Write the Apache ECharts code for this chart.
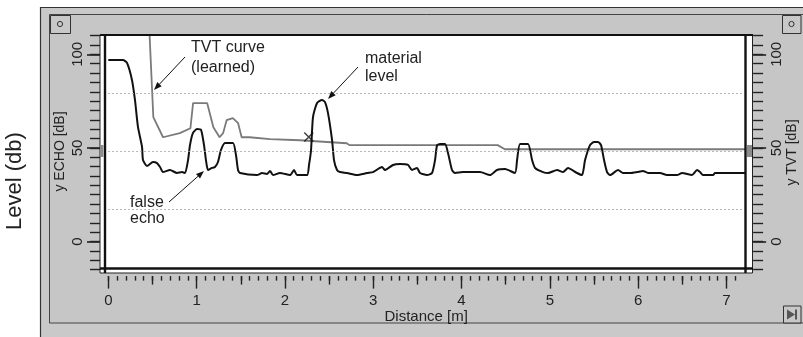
<!DOCTYPE html>
<html><head><meta charset="utf-8">
<script src="https://cdn.jsdelivr.net/npm/echarts@6/dist/echarts.min.js"></script>
<style>html,body{margin:0;padding:0;background:#fff}#c{width:803px;height:337px}</style>
</head><body><div id="c"></div>
<script>
// ---- data ----
const echoDist = [0,0.166,0.212,0.268,0.302,0.336,0.382,0.393,0.438,0.506,
  0.552,0.586,0.619,0.699,0.778,0.835,0.869,0.903,0.925,0.959,
  1.005,1.050,1.084,1.106,1.129,1.174,1.208,1.242,1.276,1.322,
  1.412,1.446,1.469,1.492,1.684,1.741,1.797,1.831,1.865,1.944,
  2.058,2.103,2.137,2.251,2.273,2.296,2.318,2.364,2.420,2.454,
  2.488,2.534,2.556,2.590,2.624,2.703,2.816,2.930,2.998,3.100,
  3.134,3.224,3.303,3.394,3.439,3.496,3.530,3.609,3.666,3.700,
  3.723,3.757,3.813,3.847,3.892,3.926,4.017,4.209,4.323,4.402,
  4.493,4.606,4.629,4.663,4.753,4.799,4.833,4.923,4.980,5.082,
  5.150,5.206,5.308,5.365,5.399,5.455,5.501,5.546,5.580,5.614,
  5.648,5.682,5.773,5.829,5.908,5.987,6.055,6.112,6.134,6.248,
  6.327,6.440,6.497,6.610,6.667,6.701,6.735,6.848,6.871,7.21];
const echoLevel = [97,97,95.4,86.3,75.6,61.2,50.5,43.5,40.3,42.5,
  41.9,39.8,37.1,38.2,36.6,37.1,36.6,43.5,51.5,58.0,
  60.1,59.6,51.5,43.5,38.2,39.3,39.8,42.5,48.9,52.6,
  52.6,46.2,38.2,36.6,35.5,36.6,36.1,37.7,35.5,36.6,
  35.5,38.2,35.5,35.5,40.9,48.9,66.5,74.0,75.6,74.5,
  68.6,54.2,43.5,38.2,37.1,36.6,35.5,36.6,37.1,39.8,
  38.2,40.9,41.4,40.9,38.2,39.3,36.6,35.5,36.6,43.5,
  51.5,52.1,52.1,47.3,38.2,36.6,37.1,37.1,35.5,38.2,
  38.7,36.6,43.5,52.1,52.1,43.5,39.3,37.1,36.6,38.2,
  37.1,39.3,36.6,35.5,43.5,51.5,53.2,53.2,51.5,43.5,
  37.1,35.5,38.2,36.6,36.6,37.1,37.7,36.6,36.6,36.6,
  35.5,35.5,36.6,35.5,38.2,37.1,35.5,35.5,36.6,36.6];
const tvtDist  = [0.46,0.51,0.62,0.81,0.93,0.96,1.12,1.19,1.26,1.30,1.34,1.41,1.47,1.51,1.60,1.83,2.17,2.70,2.73,4.41,4.49,7.21];
const tvtLevel = [118,66.4,55.7,57.9,60.5,73.9,73.9,61,55.7,57.9,64.8,65.9,63.2,55.7,55.7,54.7,54.1,52.5,51.5,51.5,49.3,49.3];
const crossPoint = [2.27, 55.8];
const gridLevels = [79, 48, 17];
const xTickLabels = [0,1,2,3,4,5,6,7];
const yTickLabels = [0,50,100];

// ---- layout helpers ----
const FONT = "'Liberation Sans', Arial, sans-serif";
const X_MIN = 0, X_MAX = 7.2, Y_MIN = -15, Y_MAX = 110;
const xMinor = [], xMid = [];
for (let i = 0; i <= 71; i++) xMinor.push(+(i * 0.1).toFixed(1));
for (let i = 0; i <= 6; i++) xMid.push(i + 0.5);

const zip = (a, b) => a.map((v, i) => [v, b[i]]);

function xAx(ticks, len, labels) {
  return {
    type: 'value', min: X_MIN, max: X_MAX, position: 'bottom', offset: 6.5,
    axisLine: { show: false, onZero: false },
    axisTick: { show: true, inside: false, customValues: ticks, length: len, lineStyle: { color: '#222', width: 1.4 } },
    axisLabel: labels ? { show: true, customValues: labels, margin: 17, fontSize: 15, color: '#222', fontFamily: FONT }
                      : { show: false },
    splitLine: { show: false }
  };
}
function yAx(pos, offset, major, margin) {
  const base = {
    type: 'value', min: Y_MIN, max: Y_MAX, position: pos, offset: offset,
    axisLine: { show: false, onZero: false }, splitLine: { show: false }
  };
  if (!major) {
    base.interval = 5;
    base.axisTick = { show: true, inside: false, length: 10, lineStyle: { color: '#222', width: 1.4 } };
    base.axisLabel = { show: false };
  } else {
    base.axisTick = { show: true, inside: false, customValues: yTickLabels, length: 13, lineStyle: { color: '#222', width: 1.6 } };
    base.axisLabel = { show: true, customValues: yTickLabels, rotate: 90, margin: margin, fontSize: 15, color: '#222', fontFamily: FONT };
  }
  return base;
}

function arrow(x1, y1, x2, y2) {
  const a = Math.atan2(y2 - y1, x2 - x1), L = 8, W = 3;
  const bx = x2 - L * Math.cos(a), by = y2 - L * Math.sin(a);
  const px = -Math.sin(a) * W, py = Math.cos(a) * W;
  return [
    { type: 'line', z: 100, shape: { x1, y1, x2: bx, y2: by }, style: { stroke: '#111', lineWidth: 1 } },
    { type: 'polygon', z: 100, shape: { points: [[x2, y2], [bx + px, by + py], [bx - px, by - py]] }, style: { fill: '#111' } }
  ];
}
function txt(t, x, y, size) {
  return { type: 'text', z: 100, x, y,
    style: { text: t, fontSize: size, fontFamily: FONT, fill: '#222', align: 'left', verticalAlign: 'middle', textAlign: 'left', textVerticalAlign: 'middle' } };
}
function vtxt(t, x, y, size) {
  return { type: 'text', z: 100, x, y, rotation: Math.PI / 2,
    style: { text: t, fontSize: size, fontFamily: FONT, fill: '#222', align: 'center', verticalAlign: 'middle', textAlign: 'center', textVerticalAlign: 'middle' } };
}
function btn(x, y, w, h, kids) {
  return [{ type: 'rect', z: -5, shape: { x, y, width: w, height: h }, style: { fill: '#c8c8c8', stroke: '#333', lineWidth: 1 } }].concat(kids);
}

const graphics = [
  // panels
  { type: 'rect', z: -20, shape: { x: 40.5, y: 7.5, width: 800, height: 340 }, style: { fill: '#c9c9c9', stroke: '#333', lineWidth: 1.2 } },
  { type: 'rect', z: -19, shape: { x: 49.5, y: 14.5, width: 800, height: 308.5 }, style: { fill: '#c6c6c6', stroke: '#444', lineWidth: 1 } },
  // plot frame
  { type: 'rect', z: -10, shape: { x: 100, y: 35, width: 652.5, height: 238 }, style: { fill: '#fff', stroke: '#222', lineWidth: 1 } },
  { type: 'line', z: 50, shape: { x1: 100, y1: 35, x2: 753, y2: 35 }, style: { stroke: '#111', lineWidth: 2.2 } },
  { type: 'line', z: 50, shape: { x1: 100, y1: 268.5, x2: 753, y2: 268.5 }, style: { stroke: '#111', lineWidth: 2.6 } },
  { type: 'line', z: 50, shape: { x1: 105, y1: 35, x2: 105, y2: 273 }, style: { stroke: '#111', lineWidth: 2.4 } },
  { type: 'line', z: 50, shape: { x1: 745.5, y1: 35, x2: 745.5, y2: 273 }, style: { stroke: '#111', lineWidth: 2.4 } },
  { type: 'rect', z: 51, shape: { x: 100.5, y: 145, width: 3, height: 12 }, style: { fill: '#8c8c8c' } },
  { type: 'rect', z: 51, shape: { x: 747, y: 145, width: 5, height: 12 }, style: { fill: '#8c8c8c' } },
  // axis titles
  vtxt('Level (db)', 15, 181, 22),
  vtxt('y ECHO [dB]', 60, 151.5, 14),
  vtxt('y TVT [dB]', 792, 152.5, 14),
  // annotations
  txt('TVT curve', 191, 48, 16), txt('(learned)', 191, 68, 16),
  txt('material', 365, 59, 16), txt('level', 365, 77, 16),
  txt('false', 130, 203, 16), txt('echo', 130, 219, 16)
]
.concat(arrow(185, 57, 154, 90))
.concat(arrow(358, 67, 328, 99))
.concat(arrow(169, 202, 204, 171))
.concat(btn(50.5, 15.5, 20, 18, [{ type: 'circle', z: -4, shape: { cx: 60, cy: 24, r: 2.6 }, style: { fill: 'none', stroke: '#333', lineWidth: 1 } }]))
.concat(btn(782.5, 15.5, 18.5, 18, [{ type: 'circle', z: -4, shape: { cx: 791.5, cy: 24, r: 2.6 }, style: { fill: 'none', stroke: '#333', lineWidth: 1 } }]))
.concat(btn(783.5, 306, 17.5, 17, [
  { type: 'polygon', z: -4, shape: { points: [[787, 309.5], [787, 319.5], [795, 314.5]] }, style: { fill: '#555' } },
  { type: 'rect', z: -4, shape: { x: 795, y: 309.5, width: 2, height: 10 }, style: { fill: '#555' } }
]));

const chart = echarts.init(document.getElementById('c'), null, { renderer: 'canvas' });
chart.setOption({
  animation: false,
  backgroundColor: '#fff',
  grid: { left: 108.3, top: 35.6, width: 635.8, height: 234, containLabel: false },
  xAxis: [
    xAx(xMinor, 4.5, null),
    xAx(xMid, 8.5, null),
    Object.assign(xAx(xTickLabels, 12.5, xTickLabels), {
      name: 'Distance [m]', nameLocation: 'middle', nameGap: 33, nameMoveOverlap: false,
      nameTextStyle: { fontSize: 15, color: '#222', fontFamily: FONT }
    })
  ],
  yAxis: [
    yAx('left', 8.3, false),
    yAx('left', 8.3, true, 15),
    yAx('right', 9, false),
    yAx('right', 9, true, 16)
  ],
  graphic: { elements: graphics },
  series: [
    {
      type: 'line', xAxisIndex: 2, yAxisIndex: 3, data: zip(tvtDist, tvtLevel),
      showSymbol: false, lineStyle: { color: '#7a7a7a', width: 1.8 }, z: 3
    },
    {
      type: 'line', xAxisIndex: 2, yAxisIndex: 1, data: zip(echoDist, echoLevel),
      showSymbol: false, smooth: 0.2, lineStyle: { color: '#111', width: 2 }, z: 4,
      markLine: {
        silent: true, symbol: ['none', 'none'], label: { show: false },
        lineStyle: { color: '#a0a0a0', type: [1.5, 2.5], width: 1.2 },
        data: gridLevels.map(v => ({ yAxis: v }))
      }
    },
    {
      type: 'scatter', xAxisIndex: 2, yAxisIndex: 1, data: [crossPoint],
      symbol: 'path://M0 0L10 10M10 0L0 10', symbolSize: 9,
      itemStyle: { color: 'none', borderColor: '#111', borderWidth: 1.5 }, z: 5
    }
  ]
});
</script></body></html>
